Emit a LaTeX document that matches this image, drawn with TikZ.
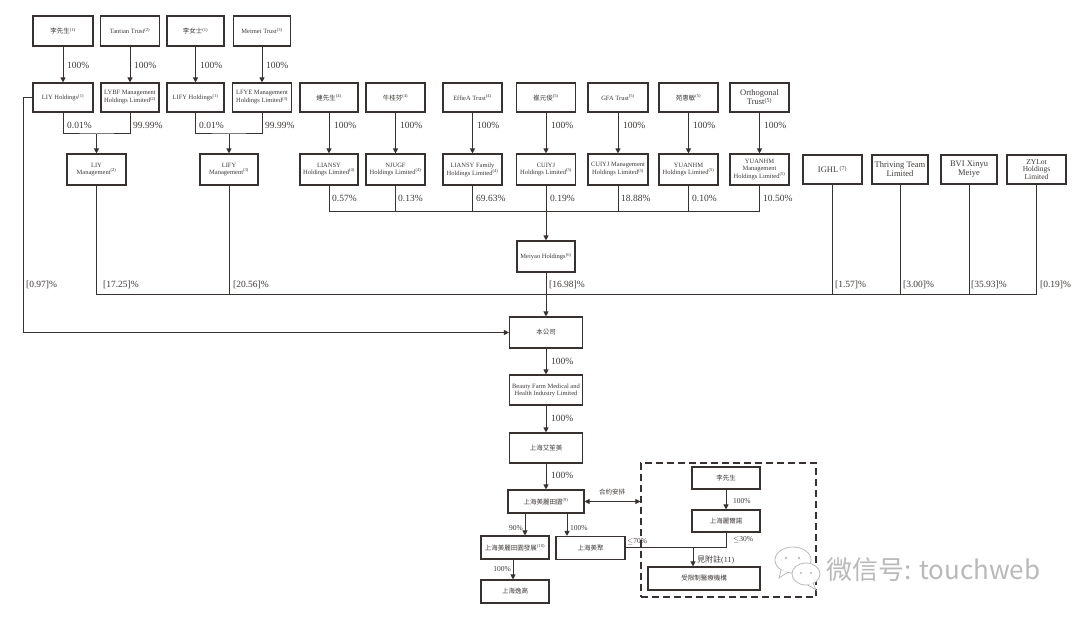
\documentclass[tikz,border=0pt]{standalone}
\usepackage{fontspec}
\setmainfont{Liberation Serif}
\newfontfamily\cjk{Noto Sans CJK TC}
\newfontfamily\cjksc{Noto Sans CJK SC}
\usetikzlibrary{arrows.meta}
\definecolor{lnc}{RGB}{55,50,48}
\definecolor{txc}{RGB}{62,58,56}
\tikzset{
  bx/.style={draw=lnc, line width=1.1pt, align=center, inner sep=0.5pt, text=txc,
    font=\fontsize{6.5}{7}\selectfont},
  sz/.style 2 args={minimum width=#1, minimum height=#2},
  bigt/.style={font=\fontsize{8.5}{9}\selectfont},
  pct/.style={font=\fontsize{9.5}{10}\selectfont, text=txc, inner sep=0pt, anchor=west},
  spct/.style={font=\fontsize{7.5}{8}\selectfont, text=txc, inner sep=0pt},
  wire/.style={draw=lnc, line width=1pt},
  arr/.style={wire, -{Triangle[length=5pt,width=5pt]}},
  darr/.style={wire, {Triangle[length=5pt,width=5pt]}-{Triangle[length=5pt,width=5pt]}},
}
\newcommand{\nt}[1]{\textsuperscript{(#1)}}
\begin{document}
\begin{tikzpicture}[x=1pt,y=-1pt]
\useasboundingbox (0,0) rectangle (1080,617);
% ---------- row 1 ----------
\node[bx, sz={60}{30}] (m1) at (63,31) {{\cjk 李先生}\nt{1}};
\node[bx, sz={59}{30}] (tt) at (130,31) {Tantian Trust\nt{2}};
\node[bx, sz={57}{30}] (m2) at (195.5,31) {{\cjk 李女士}\nt{1}};
\node[bx, sz={57}{30}] (mt) at (262,31) {Meimei Trust\nt{3}};
% ---------- row 2 ----------
\node[bx, sz={60}{29}] (liyh) at (63,97.5) {LIY Holdings\nt{1}};
\node[bx, sz={58}{29}] (lybf) at (130,97.5) {LYBF Management\\Holdings Limited\nt{2}};
\node[bx, sz={57}{29}] (lifyh) at (195.5,97.5) {LIFY Holdings\nt{1}};
\node[bx, sz={59}{29}] (lfye) at (262,97.5) {LFYE Management\\Holdings Limited\nt{3}};
% ---------- row 3 ----------
\node[bx, sz={59}{31}] (liym) at (96.5,169.5) {LIY\\Management\nt{2}};
\node[bx, sz={58}{31}] (lifym) at (229,169.5) {LIFY\\Management\nt{3}};
% ---------- row A ----------
\node[bx, sz={58}{29}] (lian) at (329,97.5) {{\cjk 連先生}\nt{4}};
\node[bx, sz={59}{29}] (niu) at (395.5,97.5) {{\cjk 牛桂芬}\nt{4}};
\node[bx, sz={59}{29}] (effie) at (472.5,97.5) {EffieA Trust\nt{4}};
\node[bx, sz={59}{29}] (cui) at (546,97.5) {{\cjk 崔元俊}\nt{5}};
\node[bx, sz={60}{29}] (gfa) at (618,97.5) {GFA Trust\nt{5}};
\node[bx, sz={59}{29}] (yuan) at (688.5,97.5) {{\cjk 苑惠敏}\nt{5}};
\node[bx, bigt, sz={59}{29}] (orth) at (759.5,97.5) {Orthogonal\\Trust\nt{5}};
% ---------- row B ----------
\node[bx, sz={58}{31}] (lianh) at (329,169.5) {LIANSY\\Holdings Limited\nt{4}};
\node[bx, sz={59}{31}] (niuh) at (395.5,169.5) {NJUGF\\Holdings Limited\nt{4}};
\node[bx, sz={59}{31}] (effieh) at (472.5,169.5) {LIANSY Family\\Holdings Limited\nt{4}};
\node[bx, sz={59}{31}] (cuih) at (546,169.5) {CUIYJ\\Holdings Limited\nt{5}};
\node[bx, sz={60}{31}] (gfah) at (618,169.5) {CUIYJ Management\\Holdings Limited\nt{5}};
\node[bx, sz={59}{31}] (yuanh) at (688.5,169.5) {YUANHM\\Holdings Limited\nt{5}};
\node[bx, sz={59}{31}] (yuanm) at (759.5,169.5) {YUANHM\\Management\\Holdings Limited\nt{5}};
% ---------- right boxes ----------
\node[bx, bigt, sz={59}{29}] (ighl) at (832.5,169.5) {IGHL\,\nt{7}};
\node[bx, bigt, sz={56}{29}] (thr) at (900,169.5) {Thriving Team\\Limited};
\node[bx, bigt, sz={56}{29}] (bvi) at (969,169.5) {BVI Xinyu\\Meiye};
\node[bx, font=\fontsize{7.5}{7.8}\selectfont, sz={59}{29}] (zyl) at (1036.5,169.5) {ZYLot\\Holdings\\Limited};
% ---------- middle chain ----------
\node[bx, sz={58}{31}] (meiyao) at (546,256.5) {Meiyao Holdings\nt{6}};
\node[bx, sz={73}{31}] (bgs) at (546,332.5) {{\cjk 本公司}};
\node[bx, sz={73}{30}] (bf) at (546,390) {Beauty Farm Medical and\\Health Industry Limited};
\node[bx, sz={73}{30}] (asm) at (546,448) {{\cjk 上海艾笙美}};
\node[bx, sz={76}{23}] (mlty) at (546,501.5) {{\cjk 上海美麗田園}\nt{9}};
\node[bx, sz={68}{23}] (fz) at (515,547.5) {{\cjk 上海美麗田園發展}\nt{10}};
\node[bx, sz={69}{23}] (mj) at (590.5,548) {{\cjk 上海美聚}};
\node[bx, sz={68}{23}] (yg) at (515,591.5) {{\cjk 上海逸高}};
% ---------- dashed group ----------
\node[draw=lnc, line width=1.1pt, dash pattern=on 7pt off 4pt, sz={175}{134}] (grp) at (728.5,530) {};
\node[bx, sz={68}{22}] (m3) at (726,478) {{\cjk 李先生}};
\node[bx, sz={68}{22}] (lrn) at (726,521) {{\cjk 上海麗爾諾}};
\node[bx, sz={112}{23}] (sx) at (704,578.5) {{\cjk 受限制醫療機構}};
% ---------- row1 -> row2 ----------
\draw[arr] (m1) -- (liyh);
\draw[arr] (tt) -- (lybf);
\draw[arr] (m2) -- (lifyh);
\draw[arr] (mt) -- (lfye);
\foreach \x in {67,134,200,266} \node[pct] at (\x,65) {100\%};
% ---------- row2 -> row3 ----------
\coordinate (j1) at (96.5,134);
\coordinate (j2) at (229,134);
\draw[wire] (liyh.south) |- (j1) -| (lybf.south);
\draw[arr] (j1) -- (liym);
\draw[wire] (lifyh.south) |- (j2) -| (lfye.south);
\draw[arr] (j2) -- (lifym);
\node[pct] at (67,125) {0.01\%};
\node[pct] at (133,125) {99.99\%};
\node[pct] at (199,125) {0.01\%};
\node[pct] at (265,125) {99.99\%};
% ---------- row A -> row B ----------
\draw[arr] (lian) -- (lianh);
\draw[arr] (niu) -- (niuh);
\draw[arr] (effie) -- (effieh);
\draw[arr] (cui) -- (cuih);
\draw[arr] (gfa) -- (gfah);
\draw[arr] (yuan) -- (yuanh);
\draw[arr] (orth) -- (yuanm);
\foreach \x in {334,400,477,551,623,693,764} \node[pct] at (\x,125) {100\%};
% ---------- Meiyao bus ----------
\coordinate (mbL) at (329,212);
\coordinate (mbR) at (759.5,212);
\draw[wire] (lianh.south) -- (mbL) -- (mbR) -- (yuanm.south);
\foreach \n in {niuh,effieh,gfah,yuanh} \draw[wire] (\n.south) -- (\n.south |- mbL);
\draw[wire] (cuih.south) -- (cuih.south |- mbL);
\draw[arr] (cuih.south |- mbL) -- (meiyao);
\node[pct] at (332,198) {0.57\%};
\node[pct] at (398,198) {0.13\%};
\node[pct] at (476,198) {69.63\%};
\node[pct] at (550,198) {0.19\%};
\node[pct] at (621,198) {18.88\%};
\node[pct] at (692,198) {0.10\%};
\node[pct] at (763,198) {10.50\%};
% ---------- company bus ----------
\coordinate (busL) at (96.5,295);
\coordinate (busR) at (1036.5,295);
\draw[wire] (liym.south) -- (busL) -- (busR) -- (zyl.south);
\foreach \n in {lifym,ighl,thr,bvi} \draw[wire] (\n.south) -- (\n.south |- busL);
\draw[arr] (meiyao) -- (bgs);
\coordinate (l0) at (23,97.5);
\draw[wire] (liyh.west) -- (l0);
\draw[arr] (l0) |- (bgs.west);
\node[pct] at (26,285) {[0.97]\%};
\node[pct] at (103,285) {[17.25]\%};
\node[pct] at (233,285) {[20.56]\%};
\node[pct] at (549,285) {[16.98]\%};
\node[pct] at (835,285) {[1.57]\%};
\node[pct] at (903,285) {[3.00]\%};
\node[pct] at (971,285) {[35.93]\%};
\node[pct] at (1040,285) {[0.19]\%};
% ---------- lower chain ----------
\draw[arr] (bgs) -- (bf);
\draw[arr] (bf) -- (asm);
\draw[arr] (asm) -- (mlty);
\node[pct] at (551,361) {100\%};
\node[pct] at (551,418) {100\%};
\node[pct] at (551,475) {100\%};
\draw[darr] (mlty.east) -- (mlty.east -| grp.west);
\node[font=\cjk\fontsize{6.5}{7}\selectfont, text=txc] at (612,492) {合約安排};
\coordinate (a1) at (525,513);
\coordinate (a2) at (567,513);
\coordinate (a3) at (513,559);
\draw[arr] (a1) -- (a1 |- fz.north);
\draw[arr] (a2) -- (a2 |- mj.north);
\draw[arr] (a3) -- (a3 |- yg.north);
\node[spct, anchor=east] at (523,528) {90\%};
\node[spct, anchor=west] at (570,528) {100\%};
\node[spct, anchor=east] at (511,569) {100\%};
% ---------- dashed group wiring ----------
\draw[arr] (m3) -- (lrn);
\node[spct, anchor=west] at (733,501) {100\%};
\coordinate (jx) at (693,548);
\draw[wire] (mj.east) -- (jx);
\draw[wire] (lrn.south) |- (jx);
\draw[arr] (jx) -- (jx |- sx.north);
\node[spct, anchor=west] at (627,542) {$\leq$70\%};
\node[spct, anchor=west] at (733,540) {$\leq$30\%};
\node[font=\fontsize{8}{9}\selectfont, text=txc, anchor=west, inner sep=0pt] at (697,560) {{\cjk 見附註}(11)};
% ---------- watermark ----------
\begin{scope}[draw=gray!55, line width=0.8pt]
  \draw[fill=white] (793,560) ellipse [x radius=18, y radius=13];
  \draw[fill=white] (781,570) -- (779,578) -- (788,572);
  \fill[gray!55] (786,558) circle (1.3) (799,558) circle (1.3);
  \draw[fill=white] (806,574) ellipse [x radius=14, y radius=11];
  \draw[fill=white] (813,583) -- (816,590) -- (808,585);
  \fill[gray!55] (801,573) circle (1.1) (811,573) circle (1.1);
\end{scope}
\node[font=\cjksc\fontsize{26}{26}\selectfont, text=gray!55, anchor=west, inner sep=0pt] (wm) at (826,570) {微信号: touchweb};
\end{tikzpicture}
\end{document}
